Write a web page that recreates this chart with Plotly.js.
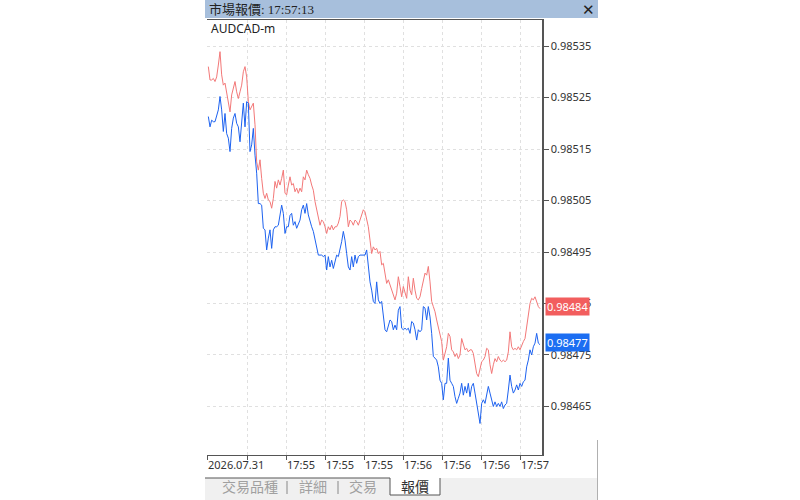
<!DOCTYPE html>
<html>
<head>
<meta charset="utf-8">
<script src="https://cdn.plot.ly/plotly-3.0.1.min.js"></script>
<style>
html,body{margin:0;padding:0;background:#fff;}
#chart{width:800px;height:500px;}
</style>
</head>
<body>
<div id="chart"></div>
<script>
// ---- data ----
const symbol = "AUDCAD-m";
const windowTitle = "市場報價: 17:57:13";
const tabs = ["交易品種", "詳細", "交易", "報價"];

const askPrices = [
0.98531,0.985284,0.985284,0.985287,0.985281,0.98529,0.985313,0.985339,0.985294,0.985274,
0.985278,0.985261,0.985245,0.985222,0.985255,0.985271,0.985281,0.985261,0.985248,0.985261,
0.985274,0.9853,0.98531,0.98529,0.985242,0.985226,0.985232,0.985239,0.985197,0.985125,
0.985109,0.985129,0.985093,0.985064,0.985054,0.985064,0.985051,0.985048,0.985035,0.985054,
0.985087,0.985074,0.98509,0.98508,0.985093,0.985109,0.985064,0.985061,0.98508,0.985096,
0.98508,0.985083,0.985067,0.985074,0.985064,0.985074,0.985067,0.985096,0.98509,0.985109,
0.9851,0.985093,0.98508,0.98507,0.985048,0.985032,0.985022,0.985002,0.985012,0.985009,
0.984999,0.984986,0.984999,0.984993,0.985002,0.984993,0.984999,0.984999,0.985006,0.985019,
0.985048,0.985051,0.985048,0.985032,0.984999,0.985012,0.985009,0.985002,0.985012,0.985009,
0.985002,0.985012,0.985022,0.985032,0.985028,0.985015,0.984999,0.984973,
0.984947,0.98496,0.984954,0.984957,0.984947,0.984951,0.984925,0.984928,0.984909,0.984889,
0.984896,0.984886,0.984873,0.984867,0.984857,0.98487,0.984902,0.984883,0.984863,0.984883,
0.98487,0.98486,0.984902,0.984876,0.984867,0.984899,0.984876,0.98486,0.984857,0.984863,
0.984879,0.984896,0.984909,0.984905,0.984922,0.984892,0.984854,0.984844,0.984834,0.984818,
0.984805,0.984786,0.984776,0.98474,0.984753,0.984766,0.984792,
0.984786,0.98476,0.984756,0.984747,0.984753,0.984743,0.98475,0.984782,0.984769,0.98476,
0.984763,0.984756,0.98476,0.98476,0.984753,0.984734,0.984714,0.984708,0.984721,0.984737,
0.98474,0.984747,0.984763,0.98476,0.984731,0.984714,0.984731,0.984743,0.984737,0.984747,
0.98474,0.984737,0.98474,0.984737,0.98474,0.984756,0.984795,0.984766,0.98476,0.984763,
0.98476,0.984766,0.98476,0.984769,0.984776,0.984782,0.984802,0.984824,0.98485,0.98486,
0.984857,0.984863,0.984854,0.984844,0.98484
];

const bidPrices = [
0.985213,0.985193,0.985206,0.985203,0.985203,0.985216,0.985226,0.985252,0.985226,0.985184,
0.985219,0.98518,0.985171,0.985145,0.98519,0.98521,0.985219,0.9852,0.985193,0.985164,
0.985197,0.985239,0.985193,0.985242,0.985239,0.985145,0.985158,0.98519,0.985138,0.985103,
0.985044,0.985044,0.985041,0.984996,0.984993,0.984954,0.984977,0.984993,0.984957,0.984993,
0.984999,0.984999,0.985002,0.985025,0.985041,0.985025,0.984986,0.984999,0.984999,0.985021,
0.985025,0.985002,0.985009,0.984996,0.985006,0.985012,0.985032,0.985041,0.985025,0.985044,
0.985022,0.985009,0.984999,0.98499,0.984973,0.984957,0.984944,0.984944,0.984944,0.984941,
0.984944,0.984915,0.984941,0.984921,0.984934,0.984918,0.984934,0.984944,0.984941,0.984954,
0.98497,0.98499,0.984973,0.984947,0.984921,0.984915,0.984941,0.984921,0.984944,0.984928,
0.984941,0.984944,0.984944,0.984944,0.984944,0.984954,0.984921,0.984892,
0.984876,0.984854,0.98485,0.984892,0.984857,0.98485,0.984854,0.984824,0.984799,0.984795,
0.984805,0.984818,0.984815,0.984799,0.984808,0.984799,0.984837,0.984844,0.984802,0.984799,
0.984802,0.984799,0.984802,0.984792,0.984815,0.984812,0.984799,0.984779,0.984799,0.984795,
0.984799,0.984844,0.984841,0.984818,0.984844,0.984824,0.984792,0.984747,0.984744,0.98474,
0.984727,0.984701,0.984695,0.984663,0.984695,0.984695,0.984744,
0.984701,0.984695,0.984689,0.984669,0.984656,0.984666,0.984676,0.984695,0.984672,0.984689,
0.984676,0.984695,0.984669,0.984689,0.984695,0.984676,0.984656,0.98463,0.984617,0.984656,
0.984663,0.984656,0.984672,0.984689,0.984676,0.984663,0.98465,0.984659,0.98465,0.984656,
0.98465,0.984659,0.984646,0.984653,0.984656,0.984682,0.984711,0.984689,0.984676,0.984682,
0.984692,0.984682,0.984695,0.984689,0.984698,0.984701,0.984727,0.98474,0.98476,0.98475,
0.984766,0.984773,0.984792,0.984773,0.98477
];

// time-axis labels (tick index -> label)
const timeTickIdx  = [-0.8, 23.2, 46.6, 70, 93.4, 116.8, 140.2, 163.6, 187];
const timeTickText = ["2026.07.31", "", "17:55", "17:55", "17:55", "17:56", "17:56", "17:56", "17:57"];

// ---- layout helpers (pixel -> paper) ----
const W = 800, H = 500, L = 207, R = 542, T = 20, B = 455;
const px = x => (x - L) / (R - L);
const py = y => (B - y) / (B - T);

const tickIndex = askPrices.map((_, i) => i);
const ASK_LINE = '#f37878', BID_LINE = '#1d62f0';
const ASK_BOX = '#f25e5e', BID_BOX = '#1c6ef2';
const uiFont = 'Noto Sans, Open Sans, Liberation Sans, sans-serif';
const cjkFont = 'Liberation Serif, Noto Sans CJK TC, serif';

const traces = [
  {x: tickIndex, y: askPrices, type: 'scatter', mode: 'lines',
   line: {color: ASK_LINE, width: 1}, hoverinfo: 'skip', name: 'Ask'},
  {x: tickIndex, y: bidPrices, type: 'scatter', mode: 'lines',
   line: {color: BID_LINE, width: 1}, hoverinfo: 'skip', name: 'Bid'}
];

const lastAsk = askPrices[askPrices.length - 1];
const lastBid = bidPrices[bidPrices.length - 1];

const shapes = [
  // window title bar
  {type: 'rect', xref: 'paper', yref: 'paper', x0: px(205), x1: px(598), y0: py(0), y1: py(18),
   fillcolor: '#a7bfdc', line: {width: 0}},
  // tab bar background
  {type: 'rect', xref: 'paper', yref: 'paper', x0: px(205), x1: px(598), y0: py(478), y1: py(500),
   fillcolor: '#f0f0f0', line: {width: 0}},
  // selected tab
  {type: 'rect', xref: 'paper', yref: 'paper', x0: px(390), x1: px(440), y0: py(478), y1: py(495),
   fillcolor: '#ffffff', line: {width: 0}},
  {type: 'path', xref: 'paper', yref: 'paper',
   path: `M ${px(205)} ${py(478)} L ${px(390)} ${py(478)} L ${px(390)} ${py(495)} L ${px(440)} ${py(495)} L ${px(440)} ${py(478)}`,
   line: {color: '#555555', width: 1}},
  // tab separators
  {type: 'line', xref: 'paper', yref: 'paper', x0: px(287), x1: px(287), y0: py(481), y1: py(494),
   line: {color: '#888888', width: 1}},
  {type: 'line', xref: 'paper', yref: 'paper', x0: px(338), x1: px(338), y0: py(481), y1: py(494),
   line: {color: '#888888', width: 1}},
  // right window edge
  {type: 'line', xref: 'paper', yref: 'paper', x0: px(597.5), x1: px(597.5), y0: py(440), y1: py(500),
   line: {color: '#b0b0b0', width: 1}}
];

const annotations = [
  {xref: 'paper', yref: 'paper', x: px(207), y: py(9.5), xanchor: 'left', yanchor: 'middle',
   text: windowTitle, showarrow: false, font: {family: cjkFont, size: 13, color: '#222'}},
  {xref: 'paper', yref: 'paper', x: px(588), y: py(9.5), xanchor: 'center', yanchor: 'middle',
   text: '<b>✕</b>', showarrow: false, font: {family: 'DejaVu Sans', size: 15, color: '#222'}},
  {xref: 'paper', yref: 'paper', x: px(209), y: py(28), xanchor: 'left', yanchor: 'middle',
   text: symbol, showarrow: false, font: {family: uiFont, size: 12, color: '#222'}},
  {xref: 'paper', yref: 'y', x: 1, y: lastAsk, xanchor: 'left', yanchor: 'middle', xshift: 3, yshift: 2,
   text: lastAsk.toFixed(5), showarrow: false, bgcolor: ASK_BOX, borderpad: 1,
   font: {family: uiFont, size: 11, color: '#ffffff'}},
  {xref: 'paper', yref: 'y', x: 1, y: lastBid, xanchor: 'left', yanchor: 'middle', xshift: 3, yshift: 2,
   text: lastBid.toFixed(5), showarrow: false, bgcolor: BID_BOX, borderpad: 1,
   font: {family: uiFont, size: 11, color: '#ffffff'}}
];

const tabCenters = [250, 313, 363, 415];
tabs.forEach((t, i) => {
  annotations.push({xref: 'paper', yref: 'paper', x: px(tabCenters[i]), y: py(487),
    xanchor: 'center', yanchor: 'middle', text: t, showarrow: false,
    font: {family: cjkFont, size: 14, color: i === tabs.length - 1 ? '#333333' : '#a0a0a0'}});
});

const layout = {
  width: W, height: H,
  margin: {l: L, r: W - R, t: T, b: H - B, pad: 0},
  paper_bgcolor: '#ffffff', plot_bgcolor: '#ffffff',
  showlegend: false,
  xaxis: {
    range: [-0.8, 200.2], fixedrange: true,
    tickmode: 'array', tickvals: timeTickIdx, ticktext: timeTickText,
    ticks: 'outside', ticklen: 4, tickcolor: '#555', tickwidth: 1,
    ticklabelposition: 'outside right',
    showgrid: true, gridcolor: '#e0e0e0', griddash: 'dot', gridwidth: 1,
    showline: true, mirror: true, linecolor: '#555', linewidth: 1,
    zeroline: false,
    tickfont: {family: uiFont, size: 11, color: '#333'}
  },
  yaxis: {
    side: 'right', range: [0.9845558, 0.9854005], fixedrange: true,
    tick0: 0.98465, dtick: 0.0001, tickformat: '.5f',
    ticks: 'outside', ticklen: 5, tickcolor: '#555', tickwidth: 1,
    showgrid: true, gridcolor: '#e0e0e0', griddash: 'dot', gridwidth: 1,
    showline: true, linecolor: '#555', linewidth: 1.5,
    zeroline: false,
    tickfont: {family: uiFont, size: 11, color: '#333'}
  },
  shapes: shapes,
  annotations: annotations
};

Plotly.newPlot('chart', traces, layout, {staticPlot: true, displayModeBar: false});
</script>
</body>
</html>
